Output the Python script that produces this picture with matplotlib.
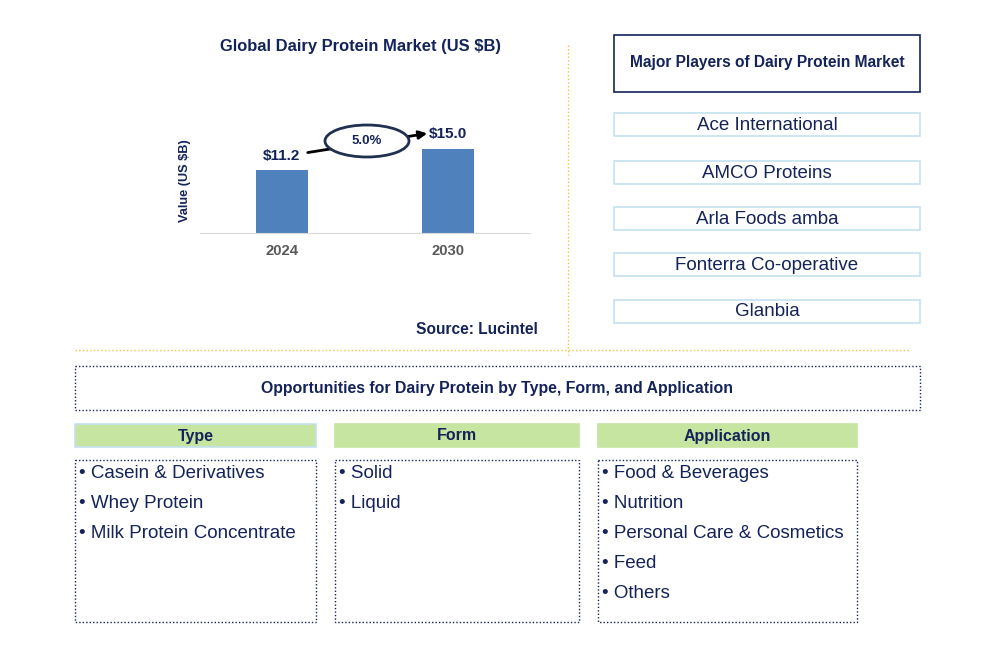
import matplotlib.pyplot as plt
from matplotlib.patches import Rectangle, Ellipse

years = ['2024', '2030']
values = [11.2, 15.0]
cagr = '5.0%'
players = ['Ace International', 'AMCO Proteins', 'Arla Foods amba',
           'Fonterra Co-operative', 'Glanbia']
seg_titles = ['Type', 'Form', 'Application']
seg_items = [
    ['Casein & Derivatives', 'Whey Protein', 'Milk Protein Concentrate'],
    ['Solid', 'Liquid'],
    ['Food & Beverages', 'Nutrition', 'Personal Care & Cosmetics', 'Feed', 'Others'],
]

navy = '#14235a'
W, H = 985, 663
plt.rcParams['font.family'] = ['Liberation Sans', 'DejaVu Sans']

fig = plt.figure(figsize=(W / 100, H / 100), dpi=100)

# bar chart axes
x0, x1, ytop, ybase = 200, 530, 100, 233
bx = fig.add_axes([x0 / W, 1 - ybase / H, (x1 - x0) / W, (ybase - ytop) / H])
bx.patch.set_visible(False)
bx.bar([0, 1], values, width=0.313, color='#4f81bd')
bx.set_xlim(-0.494, 1.494)
bx.set_ylim(0, 133 / 5.625)
bx.set_xticks([0, 1])
bx.set_xticklabels(years, fontsize=10.7, fontweight='bold', color='#595959')
bx.tick_params(axis='x', length=0, pad=8)
bx.set_yticks([])
for s in ['top', 'right', 'left']:
    bx.spines[s].set_visible(False)
bx.spines['bottom'].set_color('#d9d9d9')
for i, v in enumerate(values):
    bx.text(i, v + 1.3, f'${v:.1f}', ha='center', va='bottom', fontsize=11,
            fontweight='bold', color=navy)

# layout axes in pixel coords, on top
lay = fig.add_axes([0, 0, 1, 1])
lay.set_xlim(0, W)
lay.set_ylim(H, 0)
lay.axis('off')
lay.patch.set_visible(False)

lay.text(185, 181, 'Value (US $B)', rotation=90, ha='center', va='center',
         fontsize=9.2, fontweight='bold', color=navy)

# title and CAGR bubble
lay.text(360, 46, 'Global Dairy Protein Market (US $B)', ha='center', va='center',
         fontsize=11.9, fontweight='bold', color=navy)
lay.annotate('', xy=(430, 133), xytext=(305, 153),
             arrowprops=dict(arrowstyle='-|>', color='black', lw=2, mutation_scale=12))
lay.add_patch(Ellipse((367, 141), 84, 32, facecolor='white', edgecolor='#1f3050', lw=2, zorder=3))
lay.text(367, 141, cagr, ha='center', va='center', fontsize=9.5, fontweight='bold',
         color=navy, zorder=4)
lay.text(477, 330, 'Source: Lucintel', ha='center', va='center', fontsize=11.2,
         fontweight='bold', color=navy)

# dividers
lay.plot([568, 568], [45, 355], color='#f5c242', lw=1, ls=':')
lay.plot([75, 910], [350, 350], color='#f5c242', lw=1, ls=':')

# major players
lay.add_patch(Rectangle((614, 35), 306, 57, fill=False, edgecolor=navy, lw=1.2))
lay.text(767, 63, 'Major Players of Dairy Protein Market', ha='center', va='center',
         fontsize=11.2, fontweight='bold', color=navy)
ptops = [113, 161, 207, 253, 300]
for name, t in zip(players, ptops):
    lay.add_patch(Rectangle((614, t), 306, 23, fill=False, edgecolor='#c5e0f0', lw=1.2))
    lay.text(767, t + 12, name, ha='center', va='center', fontsize=13.5, color=navy)

# opportunities
lay.add_patch(Rectangle((75, 366), 845, 44, fill=False, edgecolor=navy, lw=1, ls=(0, (1, 1.5))))
lay.text(497, 388, 'Opportunities for Dairy Protein by Type, Form, and Application',
         ha='center', va='center', fontsize=11.4, fontweight='bold', color=navy)
cols = [(75, 316), (335, 579), (598, 857)]
for (l, r), title, items in zip(cols, seg_titles, seg_items):
    ec = '#c5e0f0' if title == 'Type' else '#c6e5a0'
    lay.add_patch(Rectangle((l, 424), r - l, 23, facecolor='#c6e5a0', edgecolor=ec, lw=1.2))
    lay.text((l + r) / 2, 436, title, ha='center', va='center', fontsize=11.5,
             fontweight='bold', color=navy)
    lay.add_patch(Rectangle((l, 460), r - l, 162, fill=False, edgecolor=navy, lw=1,
                            ls=(0, (1, 1.5))))
    for k, it in enumerate(items):
        lay.text(l + 4, 473 + 30 * k, '\u2022 ' + it, ha='left', va='center',
                 fontsize=13.5, color=navy)

fig.savefig('out.png', dpi=100)
